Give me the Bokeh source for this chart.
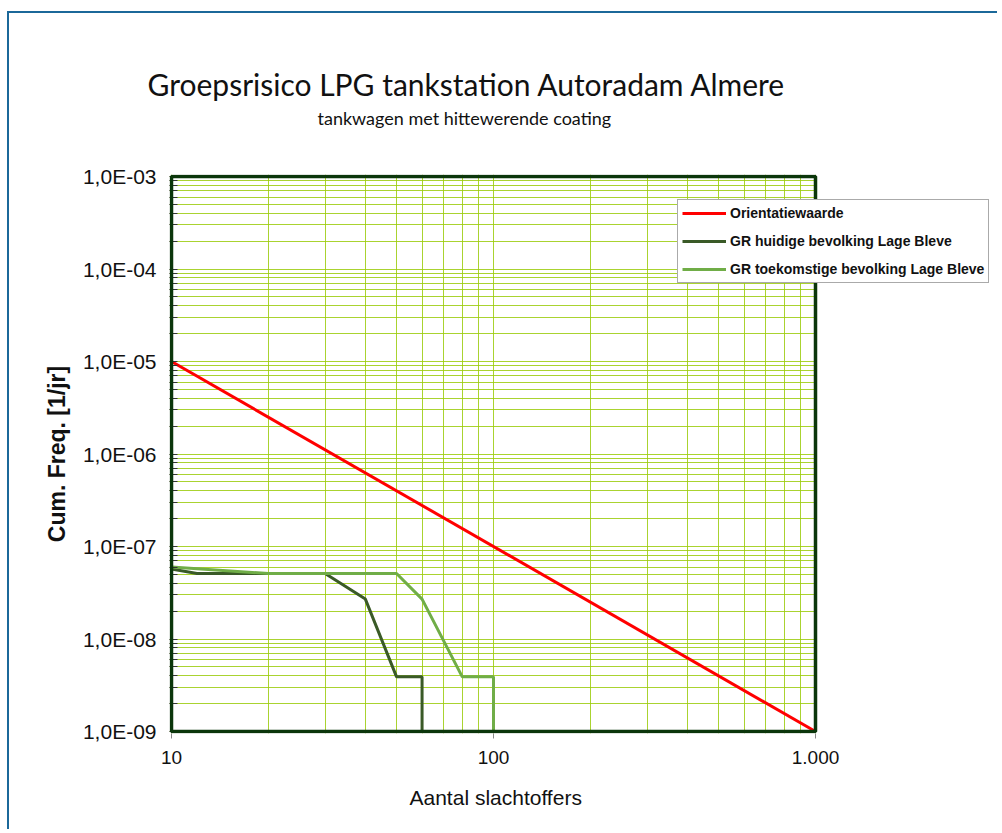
from bokeh.plotting import figure
from bokeh.models import FixedTicker, Title, Legend, LegendItem, BoxAnnotation
from bokeh.embed import file_html
from bokeh.resources import INLINE

# ---- data ----
title_text = "Groepsrisico LPG tankstation Autoradam Almere"
subtitle_text = "tankwagen met hittewerende coating"
x_label = "Aantal slachtoffers"
y_label = "Cum. Freq. [1/jr]"

series_names = ["Orientatiewaarde",
                "GR huidige bevolking Lage Bleve",
                "GR toekomstige bevolking Lage Bleve"]

x_orient = [10, 1000]
y_orient = [1e-5, 1e-9]

x_huidig = [10, 12, 30, 40, 50, 60, 60]
y_huidig = [5.7e-8, 5.1e-8, 5.1e-8, 2.7e-8, 3.9e-9, 3.9e-9, 1e-9]

x_toekomst = [10, 20, 50, 60, 80, 100, 100]
y_toekomst = [6.0e-8, 5.1e-8, 5.1e-8, 2.7e-8, 3.9e-9, 3.9e-9, 1e-9]

x_ticks = [10, 100, 1000]
x_tick_labels = ["10", "100", "1.000"]
y_ticks = [1e-9, 1e-8, 1e-7, 1e-6, 1e-5, 1e-4, 1e-3]
y_tick_labels = ["1,0E-09", "1,0E-08", "1,0E-07", "1,0E-06", "1,0E-05", "1,0E-04", "1,0E-03"]

# ---- layout geometry (pixels) ----
FONT = "Liberation Sans"
TITLE_FONT = "Lato"
CANVAS_W = 990
CANVAS_H = 818
X_DECADE_PX = 322.0
Y_DECADE_PX = 92.5
PAD = 2.0                       # frame extends beyond the plot area (left/top/bottom)
RIGHT_EXTRA = CANVAS_W - 160 - 2 - 644.0   # frame extends right of the plot area

x0, x1 = x_ticks[0], x_ticks[-1]
y0, y1 = y_ticks[0], y_ticks[-1]
x_start = x0 * 10 ** (-PAD / X_DECADE_PX)
x_end = x1 * 10 ** (RIGHT_EXTRA / X_DECADE_PX)
y_start = y0 * 10 ** (-PAD / Y_DECADE_PX)
y_end = y1 * 10 ** (PAD / Y_DECADE_PX)

p = figure(width=CANVAS_W, height=CANVAS_H, x_axis_type="log", y_axis_type="log",
           x_range=(x_start, x_end), y_range=(y_start, y_end),
           output_backend="svg", toolbar_location=None,
           min_border_left=160, min_border_right=0,
           min_border_top=161, min_border_bottom=CANVAS_H - 161 - 559)
p.styles = {"border-left": "2px solid #1B6899", "border-top": "2px solid #1B6899",
            "margin-top": "11px", "margin-left": "7px"}

p.outline_line_color = None
p.background_fill_color = "white"
p.border_fill_color = "white"

x_minor = [k * d for d in x_ticks[:-1] for k in range(2, 10)]
y_minor = [k * d for d in y_ticks[:-1] for k in range(2, 10)]

p.xaxis.ticker = FixedTicker(ticks=x_ticks, minor_ticks=x_minor)
p.yaxis.ticker = FixedTicker(ticks=y_ticks, minor_ticks=y_minor)
p.xaxis.major_label_overrides = dict(zip(x_ticks, x_tick_labels))
p.yaxis.major_label_overrides = dict(zip(y_ticks, y_tick_labels))
p.xaxis.bounds = (x0, x1)
p.yaxis.bounds = (y0, y1)

grid_col = "#9BCB0C"
for g in (p.xgrid, p.ygrid):
    g.grid_line_color = grid_col
    g.grid_line_alpha = 0.85
    g.grid_line_width = 1
    g.minor_grid_line_color = grid_col
    g.minor_grid_line_alpha = 0.85
    g.minor_grid_line_width = 1

for ax in (p.xaxis, p.yaxis):
    ax.axis_line_color = None
    ax.major_label_text_font = FONT
    ax.major_label_text_color = "#111111"
    ax.axis_label_text_font = FONT
    ax.axis_label_text_color = "#111111"

p.xaxis.major_label_text_font_size = "19px"
p.xaxis.major_tick_line_color = "#888888"
p.xaxis.major_tick_out = 5
p.xaxis.major_tick_in = 0
p.xaxis.minor_tick_line_color = None
p.xaxis.major_label_standoff = 12

p.yaxis.major_label_text_font_size = "21px"
p.yaxis.major_tick_line_color = "#333333"
p.yaxis.major_tick_in = 8
p.yaxis.major_tick_out = 0
p.yaxis.minor_tick_line_color = "#333333"
p.yaxis.minor_tick_in = 8
p.yaxis.minor_tick_out = 0
p.yaxis.major_label_standoff = 13
p.yaxis.axis_label = y_label
p.yaxis.axis_label_text_font_size = "23px"
p.yaxis.axis_label_text_font_style = "bold"
p.yaxis.axis_label_standoff = 10

r1 = p.line(x_orient, y_orient, line_color="#FF0000", line_width=3)
r2 = p.line(x_huidig, y_huidig, line_color="#3A5A27", line_width=3)
r3 = p.line(x_toekomst, y_toekomst, line_color="#70AD47", line_width=3)

# white area right of the plot area (frame is wider to hold the legend)
p.add_layout(BoxAnnotation(left=x1, fill_color="white", fill_alpha=1,
                           line_color=None, level="annotation"))
# plot-area border
p.add_layout(BoxAnnotation(left=x0, right=x1, bottom=y0, top=y1,
                           fill_alpha=0, line_color="#0B360B", line_width=3.5,
                           line_alpha=1, level="annotation"))

legend = Legend(items=[LegendItem(label=series_names[0], renderers=[r1]),
                       LegendItem(label=series_names[1], renderers=[r2]),
                       LegendItem(label=series_names[2], renderers=[r3])],
                location=(508, 450))
legend.label_text_font = FONT
legend.label_text_font_size = "14px"
legend.label_text_font_style = "bold"
legend.label_text_color = "#111111"
legend.glyph_width = 44
legend.glyph_height = 18
legend.label_height = 18
legend.label_standoff = 4
legend.spacing = 10
legend.padding = 4
legend.margin = 0
legend.border_line_color = "#555555"
legend.border_line_width = 1
legend.background_fill_color = "white"
legend.background_fill_alpha = 1
p.add_layout(legend, "center")

# titles above the plot (first added = nearest the plot)
spacer = Title(text=" ", text_font_size="1px", standoff=43)
subtitle = Title(text=subtitle_text, align="left", offset=148,
                 text_font=TITLE_FONT, text_font_size="18px",
                 text_font_style="normal", text_color="#111111", standoff=0)
title = Title(text=title_text, align="left", offset=-22,
              text_font=TITLE_FONT, text_font_size="30px",
              text_font_style="normal", text_color="#111111", standoff=6)
p.add_layout(spacer, "above")
p.add_layout(subtitle, "above")
p.add_layout(title, "above")

# x-axis title below the axis
xtitle = Title(text=x_label, align="left", offset=240, vertical_align="top",
               text_font=FONT, text_font_size="21px", text_font_style="normal",
               text_color="#111111", standoff=38)
p.add_layout(xtitle, "below")

open("out.html", "w").write(file_html(p, INLINE))
